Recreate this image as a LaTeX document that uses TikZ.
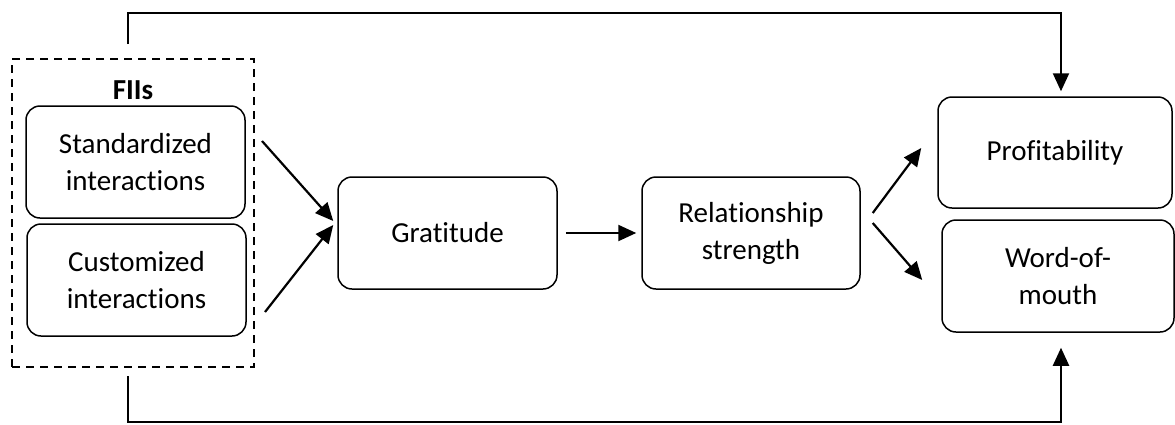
\documentclass[tikz,border=0pt]{standalone}
\usepackage{fontspec}
\setmainfont{Carlito}[Ligatures=NoCommon]
\usepackage{tikz}
\usetikzlibrary{arrows.meta,calc}

\tikzset{
  caja/.style={draw, rounded corners=7pt, line width=0.75pt, align=center,
    inner sep=0pt, minimum width=109.5pt, minimum height=56pt,
    font=\fontsize{14.5}{18.5}\selectfont},
  flecha/.style={line width=1.1pt, -{Triangle[length=9pt,width=8pt]}},
  grupo/.style={draw, dashed, dash pattern=on 4pt off 3pt, line width=0.75pt,
    inner sep=0pt, minimum width=121pt, minimum height=154pt}
}

\begin{document}
\begin{tikzpicture}[x=0.5pt, y=-0.5pt]
        \useasboundingbox (0,0) rectangle (1175,424);

        % Grupo FIIs (recuadro punteado)
        \node[grupo] (fii) at (133,213) {};
        \node[font=\fontsize{14.5}{18.5}\selectfont\bfseries] (fiilabel) at (133,90) {FIIs};

        % Cajas de entrada
        \node[caja] (std) at (135.5,162) {Standardized\\interactions};
        \node[caja] (cust) at (136.5,280) {Customized\\interactions};

        % Cajas centrales
        \node[caja] (grat) at (447.5,233) {Gratitude};
        \node[caja, minimum width=109pt] (rel) at (751,233) {Relationship\\strength};

        % Cajas de resultado
        \node[caja, minimum width=117pt, minimum height=55.5pt] (prof) at (1055,152.5) {Profitability};
        \node[caja, minimum width=116pt] (wom) at (1058,276) {Word-of-\\mouth};

        % Puntos de partida de las flechas
        \coordinate (s1) at (262,141);
        \coordinate (s2) at (265,312);
        \coordinate (topstart) at (128,44);
        \coordinate (botstart) at (128,376);

        % Flechas hacia Gratitude
        \draw[flecha] (s1) -- ([xshift=-2pt,yshift=6pt]grat.west);
        \draw[flecha] (s2) -- ([xshift=-2pt,yshift=4pt]grat.west);

        % Gratitude -> Relationship strength
        \draw[flecha, shorten <=4pt, shorten >=2.5pt] (grat.east) -- (rel.west);

        % Relationship strength -> resultados
        \draw[flecha] ([xshift=6pt,yshift=10pt]rel.east) -- ([xshift=-8pt,yshift=2.25pt]prof.west);
        \draw[flecha] ([xshift=6pt,yshift=5pt]rel.east) -- ([xshift=-9.5pt,yshift=-2pt]wom.west);

        % Efectos directos de FIIs (arriba y abajo)
        \draw[flecha] (topstart) -- ++(0,-31) -| ([xshift=3pt,yshift=2.5pt]prof.north);
        \draw[flecha] (botstart) -- ++(0,46) -| ([xshift=1.5pt,yshift=-7.5pt]wom.south);
    \end{tikzpicture}
\end{document}
